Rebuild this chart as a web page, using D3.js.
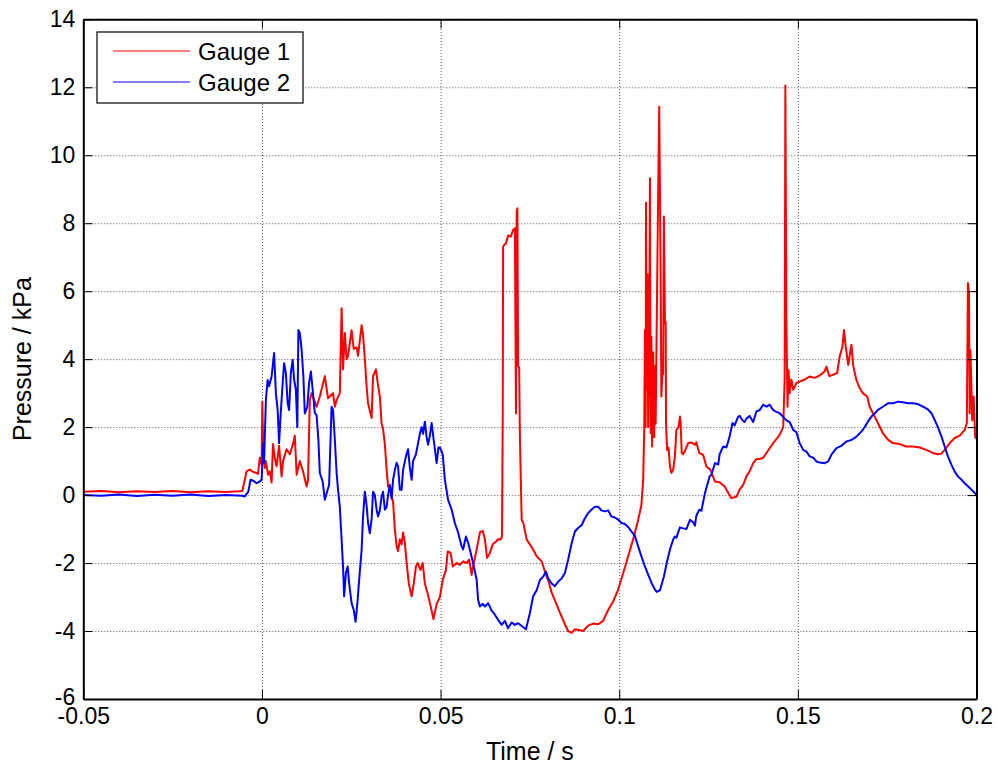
<!DOCTYPE html>
<html>
<head>
<meta charset="utf-8">
<script src="https://cdn.jsdelivr.net/npm/d3@7/dist/d3.min.js"></script>
<style>
  html, body { margin: 0; padding: 0; background: #fff; }
  svg { display: block; font-family: Arial, "Liberation Sans", sans-serif; }
</style>
</head>
<body>
<svg id="chart" width="998" height="767"></svg>
<script>
// ---------------- data ----------------
const seriesNames = ["Gauge 1", "Gauge 2"];
const seriesColors = ["#ff0000", "#0000ff"];
const xTickValues = [-0.05, 0, 0.05, 0.1, 0.15, 0.2];
const xTickLabels = ["-0.05", "0", "0.05", "0.1", "0.15", "0.2"];
const yTickValues = [-6, -4, -2, 0, 2, 4, 6, 8, 10, 12, 14];
const yTickLabels = ["-6", "-4", "-2", "0", "2", "4", "6", "8", "10", "12", "14"];
const xLabel = "Time / s";
const yLabel = "Pressure / kPa";

// Gauge 1: [time (s), pressure (kPa)]
const gauge1 = [
[-0.05,0.10],[-0.045,0.12],[-0.04,0.08],[-0.035,0.11],[-0.03,0.09],[-0.025,0.12],[-0.02,0.08],[-0.015,0.11],[-0.01,0.09],[-0.0065,0.11],[-0.0055,0.12],
[-0.0048,0.45],[-0.0043,0.70],[-0.0034,0.75],[-0.0024,0.68],[-0.0015,0.65],[-0.0011,0.62],[-0.0006,1.1],[-0.0001,0.9],[0.0001,2.75],[0.0004,1.25],[0.0008,0.8],[0.0011,1.0],[0.0017,0.6],[0.0022,0.7],[0.0027,0.37],[0.0031,1.5],[0.0036,1.1],[0.0041,0.85],[0.0048,1.45],[0.0055,0.55],[0.0059,1.0],[0.0069,1.35],[0.0078,1.2],[0.0087,1.5],[0.0092,1.75],[0.0097,0.6],[0.0106,1.0],[0.0115,0.7],[0.0125,0.25],[0.0129,0.45],[0.0134,2.8],[0.0139,3.0],[0.0153,2.6],[0.0162,2.9],[0.0176,3.5],[0.0185,2.85],[0.0199,3.0],[0.0204,2.6],[0.0209,2.8],[0.0218,3.0],[0.0223,5.5],[0.0227,3.7],[0.0232,4.77],[0.0237,4.0],[0.0241,4.1],[0.0251,4.85],[0.0257,4.3],[0.0265,4.35],[0.0269,4.1],[0.0279,5.0],[0.0283,4.7],[0.0288,4.0],[0.0293,3.2],[0.0297,2.7],[0.0307,2.27],[0.0311,3.5],[0.0319,3.7],[0.0324,3.3],[0.0330,2.9],[0.0335,2.1],[0.0339,1.95],[0.0344,1.5],[0.0349,0.75],[0.0353,0.25],[0.0358,0.2],[0.0363,-0.05],[0.0367,-0.2],[0.0372,-1.0],[0.0377,-1.5],[0.0381,-1.65],[0.0386,-1.3],[0.0391,-1.45],[0.0395,-1.1],[0.0400,-1.4],[0.0405,-2.0],[0.0411,-2.6],[0.0419,-2.98],[0.0425,-2.6],[0.0431,-2.1],[0.0436,-2.0],[0.0444,-2.2],[0.0450,-2.0],[0.0456,-2.6],[0.0464,-2.9],[0.0475,-3.4],[0.0480,-3.65],[0.0489,-3.2],[0.0498,-3.0],[0.0506,-2.5],[0.0515,-2.2],[0.0520,-1.66],[0.0528,-1.7],[0.0534,-2.1],[0.0545,-2.0],[0.0554,-2.05],[0.0563,-1.95],[0.0573,-2.0],[0.0580,-1.9],[0.0587,-2.35],[0.0590,-2.15],[0.0601,-1.6],[0.0610,-1.1],[0.0618,-1.05],[0.0624,-1.3],[0.0630,-1.85],[0.0638,-1.7],[0.0646,-1.45],[0.0657,-1.35],[0.0660,-1.3],[0.0668,-1.31],[0.0672,-1.2],[0.0674,2.4],[0.0675,7.3],[0.0677,7.35],[0.0683,7.4],[0.0689,7.64],[0.0696,7.6],[0.0703,7.8],[0.0708,7.85],[0.0711,2.4],[0.0713,8.35],[0.0715,8.44],[0.0717,3.8],[0.0720,3.75],[0.0722,1.72],[0.0727,-0.73],[0.0731,-0.8],[0.0741,-1.31],[0.0750,-1.45],[0.0759,-1.6],[0.0769,-1.8],[0.0783,-1.95],[0.0792,-2.25],[0.0801,-2.5],[0.0811,-2.87],[0.0820,-3.1],[0.0834,-3.46],[0.0848,-3.8],[0.0857,-4.0],[0.0867,-4.05],[0.0876,-3.95],[0.0890,-3.98],[0.0899,-4.0],[0.0913,-3.84],[0.0927,-3.78],[0.0941,-3.8],[0.0955,-3.7],[0.0969,-3.38],[0.0983,-3.13],[0.0997,-2.78],[0.1011,-2.3],[0.1025,-1.8],[0.1039,-1.3],[0.1053,-0.73],[0.1062,-0.3],[0.1067,0.45],[0.1070,1.92],[0.1072,4.86],[0.1074,2.0],[0.1075,8.6],[0.1077,3.1],[0.1079,6.5],[0.1081,2.0],[0.1084,4.76],[0.1086,9.32],[0.1088,1.83],[0.1090,4.66],[0.1092,1.43],[0.1095,4.2],[0.1098,1.7],[0.1100,3.8],[0.1102,2.1],[0.1106,6.04],[0.1109,8.88],[0.1112,11.43],[0.1114,8.96],[0.1116,6.4],[0.1118,2.9],[0.1121,3.6],[0.1123,3.55],[0.1125,8.2],[0.1128,5.06],[0.1130,5.1],[0.1131,2.12],[0.1134,1.33],[0.1138,1.4],[0.1142,0.84],[0.1146,0.65],[0.1151,0.75],[0.1156,1.14],[0.1160,1.92],[0.1166,2.0],[0.1170,2.31],[0.1172,2.1],[0.1175,1.24],[0.1179,1.2],[0.1184,1.3],[0.1193,1.53],[0.1202,1.55],[0.1212,1.48],[0.1216,1.55],[0.1224,1.24],[0.1235,1.18],[0.1244,0.84],[0.1255,0.75],[0.1268,0.4],[0.1281,0.38],[0.1295,0.25],[0.1305,0.07],[0.1314,-0.09],[0.1328,-0.05],[0.1337,0.16],[0.1347,0.3],[0.1356,0.55],[0.1365,0.7],[0.1375,0.94],[0.1384,1.06],[0.1393,1.06],[0.1403,1.1],[0.1412,1.24],[0.1421,1.38],[0.1431,1.53],[0.1440,1.65],[0.1449,1.77],[0.1459,2.0],[0.1463,3.4],[0.1465,12.05],[0.1468,4.98],[0.1471,2.6],[0.1474,3.68],[0.1477,3.0],[0.1482,3.4],[0.1487,3.1],[0.1496,3.3],[0.1505,3.34],[0.1519,3.4],[0.1533,3.49],[0.1547,3.45],[0.1561,3.52],[0.1575,3.64],[0.1580,3.78],[0.1588,3.5],[0.1599,3.54],[0.1610,3.6],[0.1617,4.08],[0.1625,4.37],[0.1629,4.86],[0.1634,4.37],[0.1641,3.83],[0.1645,4.1],[0.1650,4.42],[0.1655,3.8],[0.1664,3.38],[0.1673,3.15],[0.1682,3.0],[0.1694,2.9],[0.1701,2.6],[0.1710,2.41],[0.1724,2.12],[0.1738,1.82],[0.1752,1.63],[0.1766,1.53],[0.1785,1.5],[0.1803,1.43],[0.1822,1.43],[0.1841,1.4],[0.1859,1.33],[0.1878,1.24],[0.1892,1.2],[0.1902,1.22],[0.1911,1.33],[0.1925,1.53],[0.1939,1.68],[0.1953,1.75],[0.1967,1.92],[0.1973,2.12],[0.1976,6.24],[0.1979,5.94],[0.1981,2.4],[0.1983,4.26],[0.1986,3.08],[0.1988,2.2],[0.1992,2.9],[0.1996,1.72],[0.2000,1.65]
];

// Gauge 2: [time (s), pressure (kPa)]
const gauge2 = [
[-0.05,0.0],[-0.045,-0.02],[-0.04,0.02],[-0.035,-0.03],[-0.03,0.01],[-0.025,-0.02],[-0.02,0.02],[-0.015,-0.03],[-0.01,0.0],[-0.0055,-0.02],[-0.0048,-0.04],[-0.0038,0.1],[-0.0032,0.45],[-0.0024,0.42],[-0.0015,0.35],[-0.0006,0.4],[-0.0001,0.45],[0.0004,1.53],[0.0006,0.95],[0.0011,2.8],[0.0016,3.39],[0.0020,3.2],[0.0027,3.49],[0.0034,4.18],[0.0039,3.0],[0.0044,2.5],[0.0048,1.53],[0.0052,2.31],[0.0058,3.3],[0.0062,3.88],[0.0067,3.58],[0.0072,2.7],[0.0076,2.5],[0.0081,3.6],[0.0086,3.98],[0.0090,3.4],[0.0095,3.1],[0.0099,2.0],[0.0102,4.86],[0.0106,4.77],[0.0111,4.28],[0.0116,3.49],[0.0120,2.4],[0.0127,2.6],[0.0132,3.3],[0.0137,3.64],[0.0142,3.1],[0.0148,2.41],[0.0153,2.35],[0.0158,1.63],[0.0162,0.65],[0.0170,0.4],[0.0176,-0.14],[0.0183,0.13],[0.0188,0.3],[0.0192,1.63],[0.0195,2.6],[0.0199,2.5],[0.0204,1.63],[0.0209,0.65],[0.0213,0.16],[0.0218,-0.34],[0.0223,-1.31],[0.0227,-2.1],[0.0230,-2.98],[0.0235,-2.29],[0.0240,-2.1],[0.0244,-2.59],[0.0251,-3.18],[0.0257,-3.38],[0.0262,-3.73],[0.0267,-3.2],[0.0272,-2.5],[0.0279,-1.61],[0.0283,-0.63],[0.0288,0.1],[0.0293,-0.3],[0.0297,-0.82],[0.0302,-1.12],[0.0307,-0.7],[0.0311,0.1],[0.0316,0.0],[0.0321,-0.43],[0.0325,-0.63],[0.0330,-0.45],[0.0335,-0.04],[0.0339,0.1],[0.0344,-0.43],[0.0349,-0.35],[0.0353,0.0],[0.0358,0.3],[0.0363,-0.1],[0.0367,0.45],[0.0372,0.74],[0.0377,0.95],[0.0381,0.85],[0.0386,0.16],[0.0391,0.16],[0.0395,0.74],[0.0403,1.14],[0.0409,1.35],[0.0414,0.8],[0.0419,0.45],[0.0423,1.0],[0.0431,1.2],[0.0437,1.53],[0.0442,1.8],[0.0447,2.0],[0.0451,1.8],[0.0456,2.16],[0.0461,1.7],[0.0465,1.48],[0.0470,1.75],[0.0475,2.12],[0.0481,1.6],[0.0489,0.94],[0.0494,1.4],[0.0498,1.4],[0.0506,1.2],[0.0512,0.45],[0.0521,-0.14],[0.0531,-0.43],[0.0540,-0.82],[0.0549,-1.1],[0.0559,-1.51],[0.0563,-1.6],[0.0571,-1.22],[0.0577,-1.4],[0.0582,-1.6],[0.0591,-2.0],[0.0601,-2.5],[0.0605,-3.08],[0.0610,-3.28],[0.0618,-3.2],[0.0624,-3.28],[0.0633,-3.18],[0.0643,-3.4],[0.0652,-3.52],[0.0661,-3.67],[0.0671,-3.82],[0.0680,-3.7],[0.0689,-3.92],[0.0699,-3.75],[0.0708,-3.82],[0.0717,-3.77],[0.0727,-3.85],[0.0739,-3.95],[0.0750,-3.47],[0.0759,-2.98],[0.0769,-2.8],[0.0778,-2.5],[0.0787,-2.4],[0.0795,-2.25],[0.0801,-2.45],[0.0811,-2.6],[0.0820,-2.68],[0.0829,-2.55],[0.0839,-2.45],[0.0848,-2.29],[0.0857,-1.9],[0.0867,-1.41],[0.0876,-1.07],[0.0885,-0.97],[0.0895,-0.88],[0.0904,-0.68],[0.0913,-0.53],[0.0922,-0.43],[0.0932,-0.34],[0.0941,-0.34],[0.0950,-0.45],[0.0960,-0.48],[0.0969,-0.45],[0.0978,-0.63],[0.0988,-0.66],[0.0997,-0.72],[0.1006,-0.82],[0.1016,-0.85],[0.1025,-0.94],[0.1034,-1.07],[0.1044,-1.2],[0.1053,-1.51],[0.1062,-1.8],[0.1072,-2.1],[0.1081,-2.34],[0.1091,-2.6],[0.1100,-2.78],[0.1105,-2.85],[0.1114,-2.8],[0.1125,-2.4],[0.1133,-2.0],[0.1142,-1.6],[0.1151,-1.31],[0.1156,-1.22],[0.1160,-1.25],[0.1170,-0.95],[0.1179,-0.98],[0.1188,-1.0],[0.1198,-0.73],[0.1207,-0.8],[0.1212,-0.9],[0.1216,-0.6],[0.1224,-0.43],[0.1230,-0.46],[0.1240,0.06],[0.1249,0.4],[0.1253,0.55],[0.1258,0.6],[0.1268,0.94],[0.1277,0.9],[0.1281,1.2],[0.1291,1.43],[0.1300,1.4],[0.1309,1.72],[0.1317,2.12],[0.1323,2.05],[0.1333,2.31],[0.1337,2.33],[0.1345,2.2],[0.1351,2.15],[0.1356,2.25],[0.1365,2.33],[0.1375,2.15],[0.1384,2.46],[0.1393,2.5],[0.1403,2.66],[0.1412,2.6],[0.1421,2.66],[0.1431,2.5],[0.1440,2.45],[0.1449,2.41],[0.1459,2.3],[0.1468,2.2],[0.1477,2.15],[0.1487,1.92],[0.1496,1.85],[0.1505,1.53],[0.1515,1.33],[0.1524,1.28],[0.1533,1.14],[0.1543,1.1],[0.1552,0.99],[0.1561,0.96],[0.1575,0.94],[0.1585,0.99],[0.1594,1.19],[0.1608,1.38],[0.1622,1.45],[0.1636,1.58],[0.1650,1.62],[0.1664,1.72],[0.1678,1.87],[0.1687,2.0],[0.1696,2.16],[0.1706,2.31],[0.1715,2.4],[0.1724,2.51],[0.1738,2.6],[0.1752,2.7],[0.1766,2.7],[0.1780,2.75],[0.1794,2.73],[0.1808,2.7],[0.1822,2.7],[0.1836,2.68],[0.1850,2.6],[0.1864,2.52],[0.1874,2.41],[0.1883,2.21],[0.1892,2.0],[0.1902,1.72],[0.1911,1.43],[0.1920,1.14],[0.1930,0.89],[0.1939,0.69],[0.1948,0.55],[0.1958,0.45],[0.1967,0.35],[0.1976,0.26],[0.1986,0.16],[0.1995,0.06],[0.2000,0.0]
];

// ---------------- chart ----------------
const W = 998, H = 767;
const plot = { left: 83.3, right: 976.5, top: 19.3, bottom: 699 };
const svg = d3.select("#chart");
svg.append("rect").attr("width", W).attr("height", H).attr("fill", "#fff");

const x = d3.scaleLinear().domain([-0.05, 0.2]).range([plot.left, plot.right]);
const y = d3.scaleLinear().domain([-6, 14]).range([plot.bottom, plot.top]);
const pw = plot.right - plot.left, ph = plot.bottom - plot.top;
const FS = 23;      // tick labels
const FSL = 24;     // legend
const FST = 25;     // axis titles

// grid
const grid = svg.append("g").attr("class", "grid");
grid.append("g").attr("transform", `translate(0,${plot.bottom})`)
  .call(d3.axisBottom(x).tickValues(xTickValues).tickSize(-ph).tickFormat(""))
  .call(g => g.select(".domain").remove());
grid.append("g").attr("transform", `translate(${plot.left},0)`)
  .call(d3.axisLeft(y).tickValues(yTickValues).tickSize(-pw).tickFormat(""))
  .call(g => g.select(".domain").remove());
grid.selectAll("line").attr("stroke", "#444").attr("stroke-width", 0.9).attr("stroke-dasharray", "1,2");

// clip
svg.append("clipPath").attr("id", "clip").append("rect")
  .attr("x", plot.left).attr("y", plot.top).attr("width", pw).attr("height", ph);

const line = d3.line().x(d => x(d[0])).y(d => y(d[1]));
const gLines = svg.append("g").attr("clip-path", "url(#clip)");
[gauge1, gauge2].forEach((data, i) => {
  gLines.append("path").datum(data)
    .attr("fill", "none")
    .attr("stroke", seriesColors[i])
    .attr("stroke-width", 2)
    .attr("stroke-linejoin", "round")
    .attr("d", line);
});

// axes (ticks inside)
const TK = 9;
const axB = svg.append("g").attr("transform", `translate(0,${plot.bottom})`)
  .call(d3.axisBottom(x).tickValues(xTickValues).tickSizeInner(-TK).tickSizeOuter(0).tickPadding(9)
    .tickFormat((d, i) => xTickLabels[i]));
const axL = svg.append("g").attr("transform", `translate(${plot.left},0)`)
  .call(d3.axisLeft(y).tickValues(yTickValues).tickSizeInner(-TK).tickSizeOuter(0).tickPadding(8)
    .tickFormat((d, i) => yTickLabels[i]));
const axT = svg.append("g").attr("transform", `translate(0,${plot.top})`)
  .call(d3.axisTop(x).tickValues(xTickValues).tickSizeInner(-TK).tickSizeOuter(0).tickFormat(""));
const axR = svg.append("g").attr("transform", `translate(${plot.right},0)`)
  .call(d3.axisRight(y).tickValues(yTickValues).tickSizeInner(-TK).tickSizeOuter(0).tickFormat(""));
[axB, axL, axT, axR].forEach(a => {
  a.select(".domain").attr("stroke", "#000").attr("stroke-width", 2);
  a.selectAll(".tick line").attr("stroke", "#000").attr("stroke-width", 1);
  a.selectAll("text").attr("font-size", FS).attr("fill", "#000")
    .attr("font-family", "Arial, 'Liberation Sans', sans-serif");
});
// the lowest y label sits just above the first x label, as in the reference
axL.selectAll(".tick").filter(d => d === -6).select("text").attr("dy", "0.22em");

// axis titles
svg.append("text").attr("x", (plot.left + plot.right) / 2).attr("y", 760)
  .attr("text-anchor", "middle").attr("font-size", FST).text(xLabel);
svg.append("text").attr("transform", `translate(31,${(plot.top + plot.bottom) / 2}) rotate(-90)`)
  .attr("text-anchor", "middle").attr("font-size", FST).text(yLabel);

// legend
const lg = svg.append("g");
lg.append("rect").attr("x", 97).attr("y", 32).attr("width", 206).attr("height", 71)
  .attr("fill", "#fff").attr("stroke", "#000").attr("stroke-width", 1.2);
seriesNames.forEach((name, i) => {
  const cy = 51 + i * 31;
  lg.append("line").attr("x1", 113).attr("x2", 190).attr("y1", cy).attr("y2", cy)
    .attr("stroke", seriesColors[i]).attr("stroke-width", 1.2);
  lg.append("text").attr("x", 198).attr("y", cy + 8.5).attr("font-size", FSL).text(name);
});
</script>
</body>
</html>
